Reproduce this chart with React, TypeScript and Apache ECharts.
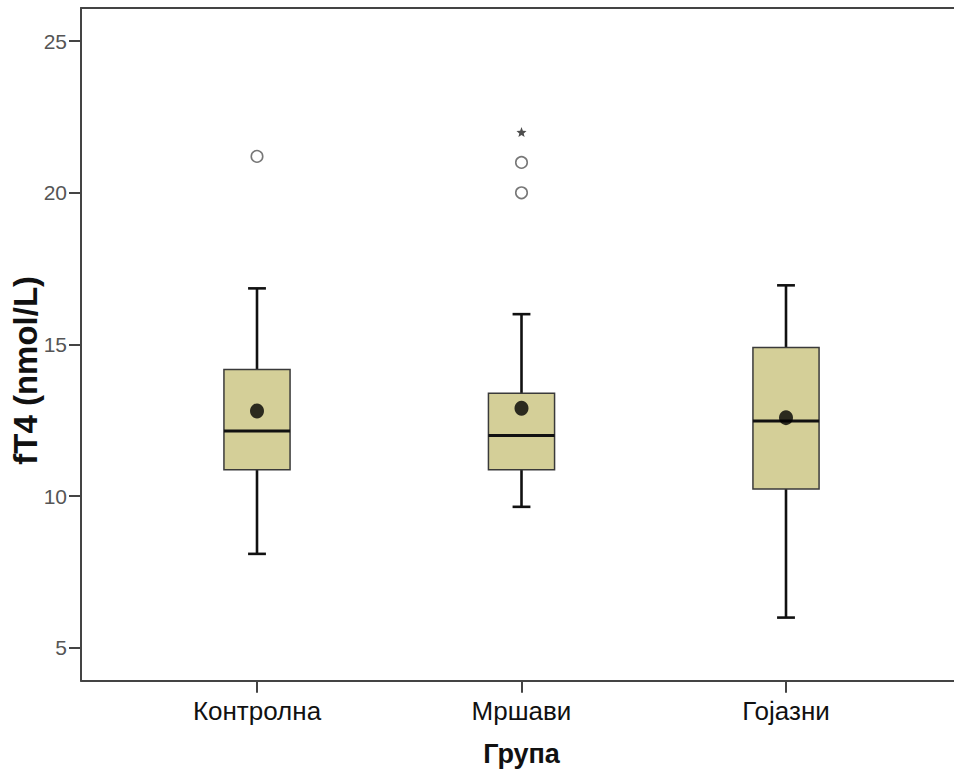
import React, { useEffect, useRef } from "react";
import * as echarts from "echarts";

const categories = ["Контролна", "Мршави", "Гојазни"];
const minValues = [8.1, 9.65, 6.0];
const q1Values = [10.87, 10.87, 10.24];
const medianValues = [12.15, 12.0, 12.48];
const q3Values = [14.18, 13.39, 14.9];
const maxValues = [16.85, 16.0, 16.95];
const meanValues = [12.81, 12.9, 12.59];
const outlierPoints = [
  [0, 21.2],
  [1, 21.0],
  [1, 20.0],
];
const extremePoints = [[1, 22.0]];
const yTicks = [5, 10, 15, 20, 25];
const yMin = 3.92;
const yMax = 26.09;

const FONT = "'Liberation Sans', Arial, sans-serif";
const STAR =
  "path://M5,0L6.293,3.22L9.755,3.455L7.092,5.68L7.939,9.045L5,7.2L2.061,9.045L2.908,5.68L0.245,3.455L3.707,3.22Z";

export default function App() {
  const ref = useRef<HTMLDivElement>(null);

  useEffect(() => {
    if (!ref.current) return;
    const chart = echarts.init(ref.current, null, { renderer: "svg" });
    const boxData = categories.map((_, i) => [
      i,
      minValues[i],
      q1Values[i],
      medianValues[i],
      q3Values[i],
      maxValues[i],
    ]);
    const option: any = {
      animation: false,
      backgroundColor: "#ffffff",
      textStyle: { fontFamily: FONT },
      grid: [
        { left: 81, right: -10, top: 8, bottom: 95.3, containLabel: false, outerBoundsMode: "none" },
        { left: 124.75, right: 35.75, top: 8, bottom: 95.3, containLabel: false, outerBoundsMode: "none" },
      ],
      xAxis: [
        {
          type: "value",
          gridIndex: 0,
          position: "bottom",
          min: 0,
          max: 1,
          axisLine: { show: true, lineStyle: { color: "#444", width: 2 } },
          axisTick: { show: false },
          axisLabel: { show: false },
          splitLine: { show: false },
        },
        {
          type: "value",
          gridIndex: 0,
          position: "top",
          min: 0,
          max: 1,
          axisLine: { show: true, lineStyle: { color: "#444", width: 2 } },
          axisTick: { show: false },
          axisLabel: { show: false },
          splitLine: { show: false },
        },
        {
          type: "category",
          gridIndex: 1,
          data: categories,
          position: "bottom",
          boundaryGap: true,
          axisLine: { show: false },
          axisTick: {
            show: true,
            alignWithLabel: true,
            length: 12,
            lineStyle: { color: "#444", width: 2 },
          },
          axisLabel: { fontSize: 26, color: "#111", margin: 17, fontFamily: FONT },
          name: "Група",
          nameLocation: "middle",
          nameGap: 60,
          nameMoveOverlap: false,
          nameTextStyle: { fontSize: 27, fontWeight: "bold", color: "#111", fontFamily: FONT },
          splitLine: { show: false },
        },
      ],
      yAxis: [
        {
          type: "value",
          gridIndex: 0,
          min: yMin,
          max: yMax,
          axisLine: { show: true, lineStyle: { color: "#444", width: 2 } },
          axisTick: {
            show: true,
            length: 12,
            customValues: yTicks,
            lineStyle: { color: "#444", width: 2 },
          },
          axisLabel: {
            customValues: yTicks,
            fontSize: 21,
            color: "#555",
            margin: 14,
            fontFamily: FONT,
          },
          splitLine: { show: false },
          name: "fT4 (nmol/L)",
          nameLocation: "middle",
          nameGap: 39,
          nameMoveOverlap: false,
          nameTextStyle: {
            fontSize: 33,
            fontWeight: "bold",
            color: "#111",
            fontFamily: FONT,
            padding: [0, 52, 0, 0],
          },
        },
        {
          type: "value",
          gridIndex: 1,
          min: yMin,
          max: yMax,
          show: false,
        },
      ],
      series: [
        {
          type: "custom",
          xAxisIndex: 2,
          yAxisIndex: 1,
          data: boxData,
          encode: { x: 0, y: [1, 2, 3, 4, 5] },
          renderItem: (_params: any, api: any) => {
            const idx = api.value(0);
            const lo = api.coord([idx, api.value(1)]);
            const q1 = api.coord([idx, api.value(2)]);
            const med = api.coord([idx, api.value(3)]);
            const q3 = api.coord([idx, api.value(4)]);
            const hi = api.coord([idx, api.value(5)]);
            const band = api.size([1, 0])[0];
            const bw = band * 0.25;
            const cw = bw * 0.27;
            const cx = med[0];
            const stroke = { stroke: "#111", lineWidth: 2.6 };
            return {
              type: "group",
              children: [
                { type: "line", shape: { x1: cx, y1: hi[1], x2: cx, y2: q3[1] }, style: stroke },
                { type: "line", shape: { x1: cx, y1: q1[1], x2: cx, y2: lo[1] }, style: stroke },
                { type: "line", shape: { x1: cx - cw / 2, y1: hi[1], x2: cx + cw / 2, y2: hi[1] }, style: stroke },
                { type: "line", shape: { x1: cx - cw / 2, y1: lo[1], x2: cx + cw / 2, y2: lo[1] }, style: stroke },
                {
                  type: "rect",
                  shape: { x: cx - bw / 2, y: q3[1], width: bw, height: q1[1] - q3[1] },
                  style: { fill: "#D4CF98", stroke: "#3a3a3a", lineWidth: 1.5 },
                },
                {
                  type: "line",
                  shape: { x1: cx - bw / 2, y1: med[1], x2: cx + bw / 2, y2: med[1] },
                  style: { stroke: "#111", lineWidth: 3 },
                },
              ],
            };
          },
          z: 2,
        },
        {
          type: "scatter",
          xAxisIndex: 2,
          yAxisIndex: 1,
          data: meanValues.map((v, i) => [i, v]),
          symbol: "circle",
          symbolSize: [14, 15],
          itemStyle: { color: "#000" },
          z: 5,
        },
        {
          type: "scatter",
          xAxisIndex: 2,
          yAxisIndex: 1,
          data: outlierPoints,
          symbol: "circle",
          symbolSize: 11.5,
          itemStyle: { color: "#fff", borderColor: "#555", borderWidth: 1.6 },
          z: 5,
        },
        {
          type: "scatter",
          xAxisIndex: 2,
          yAxisIndex: 1,
          data: extremePoints,
          symbol: STAR,
          symbolSize: 10,
          itemStyle: { color: "#222" },
          z: 5,
        },
      ],
    };
    chart.setOption(option);
    return () => chart.dispose();
  }, []);

  return (
    <div
      ref={ref}
      style={{ position: "fixed", left: 0, top: 0, width: 954, height: 776, background: "#fff" }}
    />
  );
}
